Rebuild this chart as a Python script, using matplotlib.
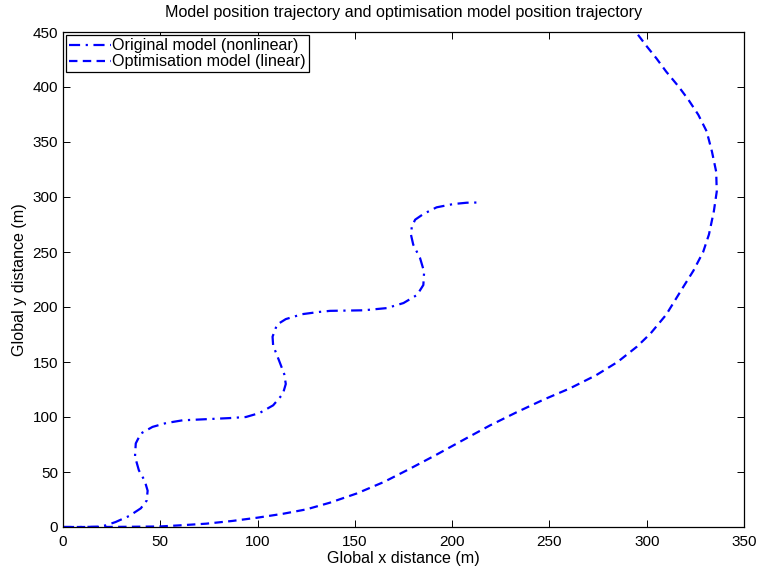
import matplotlib
matplotlib.use("Agg")
import matplotlib.pyplot as plt

nl_x = [0, 10, 18, 22, 27, 34, 40, 43, 43.5, 42, 39, 37, 37.4, 40, 46, 53, 61.5, 73.5, 85.5, 94,
        101, 108, 113, 114.5, 113.7, 111, 108, 107.7, 110, 114.5, 123, 131.6, 137.3, 154.5, 166.4,
        175, 182, 185.2, 185.6, 183.5, 180, 178.8, 179.3, 181, 185.2, 192, 200.6, 207.5, 213.5]
nl_y = [0, 0, 0.3, 1.5, 4.5, 10, 17, 24, 33, 42, 51.5, 64, 76, 85, 91, 94.5, 97, 98, 99, 100,
        103.6, 110.6, 121, 130, 139, 151.5, 165, 173, 184, 189, 193.5, 195.5, 196.5, 197, 199,
        203.6, 211, 220, 232, 244.5, 256.7, 266, 273.3, 279.4, 284.5, 290.6, 293.6, 294.8, 295]

lin_x = [0, 20, 40, 50, 60, 73.5, 87, 100, 113, 125, 137, 151, 165, 178, 192, 206, 219.5, 233,
         247, 260.5, 274, 285, 295, 302, 310, 318, 324, 329, 332, 334.5, 336, 335.7, 333.5,
         330.8, 326.5, 321.4, 316.3, 310, 305, 300, 294]
lin_y = [0, 0, 0.3, 0.5, 1.5, 3, 5.5, 8.5, 12, 16, 22, 30.5, 41, 52.7, 65.8, 79.4, 92.4, 104.2,
         115.8, 126, 138, 150, 164, 176, 193, 216, 233, 250, 266, 287, 305, 323, 341.5, 359.7,
         374.8, 388.5, 400.6, 414, 426, 437, 451]

x_ticks = [0, 50, 100, 150, 200, 250, 300, 350]
y_ticks = [0, 50, 100, 150, 200, 250, 300, 350, 400, 450]

plt.rcParams['font.family'] = ['Liberation Sans', 'DejaVu Sans']

W, H = 758, 570
fig = plt.figure(figsize=(W / 100, H / 100), dpi=100)
ax = fig.add_axes([63 / W, 43 / H, 681 / W, 495 / H])

ax.plot(nl_x, nl_y, color=(0, 0, 1), linewidth=1.6, linestyle=(0, (5, 2.5, 1, 2.5)),
        label='Original model (nonlinear)')
ax.plot(lin_x, lin_y, color=(0, 0, 1), linewidth=1.6, linestyle=(0, (3.8, 2.4)),
        label='Optimisation model (linear)')

ax.set_xlim(0, 350)
ax.set_ylim(0, 450)
ax.set_xticks(x_ticks)
ax.set_yticks(y_ticks)
ax.tick_params(direction='in', top=True, right=True, length=5, width=0.7, labelsize=11)
ax.tick_params(axis='x', pad=5.5)
ax.tick_params(axis='y', pad=3.6)
for s in ax.spines.values():
    s.set_linewidth(0.9)

ax.set_title('Model position trajectory and optimisation model position trajectory',
             fontsize=11.6, pad=10.5)
ax.set_xlabel('Global x distance (m)', fontsize=11.6, labelpad=1.5)
ax.set_ylabel('Global y distance (m)', fontsize=11.6, labelpad=4)

leg = ax.legend(loc='upper left', fontsize=11.6, handlelength=2.55, handletextpad=0.12,
                borderaxespad=0.2, borderpad=0.2, labelspacing=0.05, fancybox=False,
                framealpha=1, edgecolor='black')
leg.get_frame().set_linewidth(0.9)

fig.savefig('out.png', dpi=100)
